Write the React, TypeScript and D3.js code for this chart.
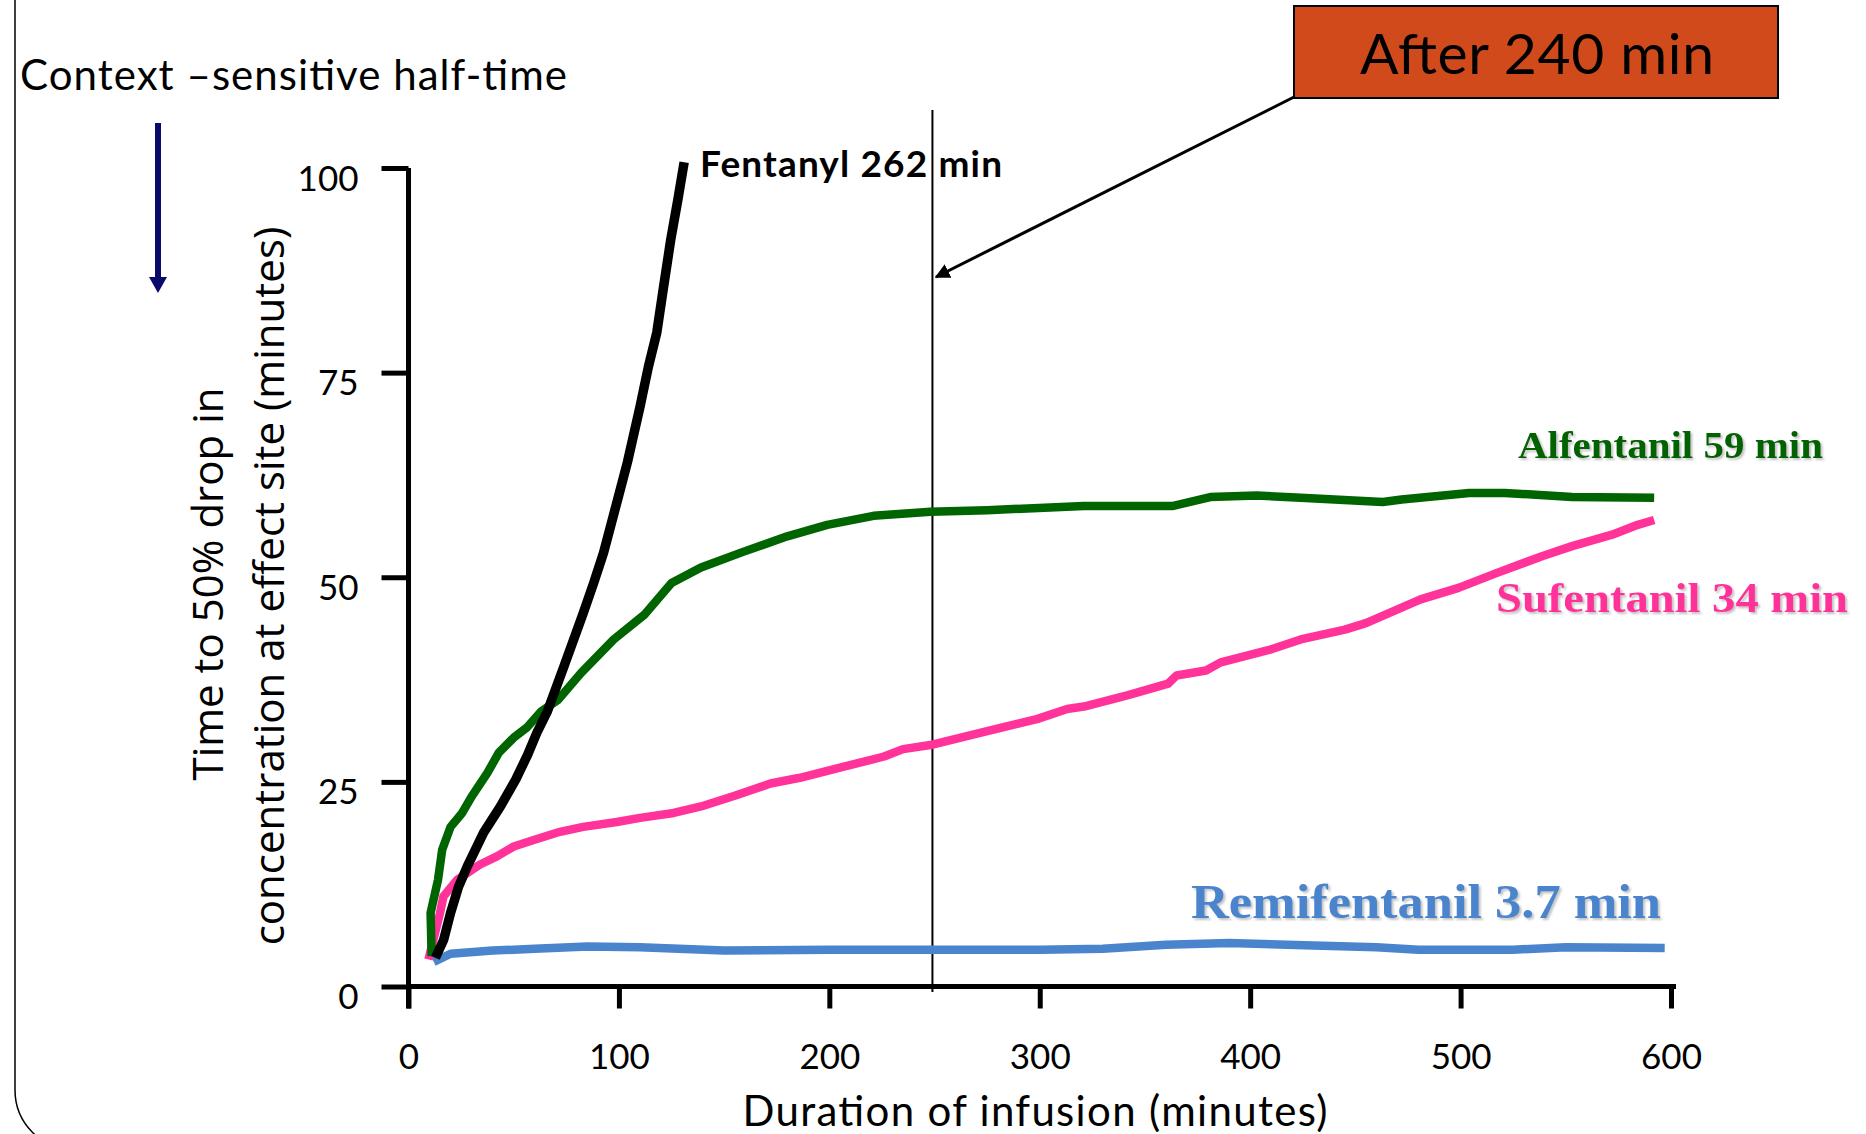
import * as d3 from "d3";
import { useRef, useEffect } from "react";

// infusion duration (min) vs time to 50% drop (min)
const fentanyl: [number, number][] = [
  [12.8, 3.5], [16.7, 5.7], [20, 9], [23.8, 12.2], [28, 14.7], [35.7, 18.8],
  [43.7, 22], [51, 25.3], [56.6, 28.3], [61, 31], [66, 33.6], [73.7, 39],
  [83, 45.6], [88, 49.3], [92.7, 53], [99.4, 59.5], [104, 64], [110, 70.8],
  [114, 75.7], [118, 79.9], [121, 85.1], [124.6, 91.2], [128, 96.1], [131, 100.7],
];

const alfentanil: [number, number][] = [
  [11, 3.7], [10.5, 9], [14, 13], [16, 16.7], [20, 19.5], [25.5, 21.2],
  [30, 23.2], [37.5, 26.1], [43, 28.6], [50, 30.4], [56.5, 31.7], [63, 33.6],
  [71, 35], [82, 38.3], [97.5, 42.4], [112, 45.4], [125, 49.3], [139, 51.2],
  [159, 53.1], [180, 55], [199, 56.4], [221, 57.5], [248, 58], [275, 58.2],
  [321, 58.7], [363, 58.7], [381, 59.8], [403, 60], [424, 59.7], [463, 59.2],
  [472, 59.5], [504, 60.3], [521, 60.3], [553, 59.8], [592, 59.7],
];

const sufentanil: [number, number][] = [
  [9.5, 3.3], [15, 9], [16.6, 11], [23, 13], [34, 14.9], [42, 15.9],
  [50, 17.1], [59.5, 17.9], [72, 18.9], [83, 19.5], [99, 20.1], [110, 20.6],
  [126, 21.2], [139, 22], [155, 23.3], [172, 24.8], [186, 25.5], [206, 26.8],
  [226, 28.1], [235, 29], [248, 29.5], [275, 31.2], [299, 32.7], [313, 33.9],
  [321, 34.2], [342, 35.6], [361, 37], [365, 38], [379, 38.6], [386, 39.6],
  [410, 41.2], [424, 42.4], [445, 43.6], [455, 44.4], [481, 47.3], [499, 48.7],
  [517, 50.5], [539, 52.6], [553, 53.8], [572, 55.2], [583, 56.3], [592, 57],
];

const remifentanil: [number, number][] = [
  [12, 3.0], [20, 4.0], [40, 4.4], [60, 4.6], [85, 4.9], [110, 4.8],
  [150, 4.4], [200, 4.5], [250, 4.5], [300, 4.5], [330, 4.6], [360, 5.1],
  [390, 5.3], [430, 5.0], [460, 4.8], [480, 4.5], [525, 4.5], [550, 4.8],
  [597, 4.7],
];

const xTicks = [0, 100, 200, 300, 400, 500, 600];
const yTicks = [0, 25, 50, 75, 100];
const markerMinute = 249;

const width = 1866;
const height = 1134;

export default function App() {
  const gx = useRef<SVGGElement>(null);
  const gy = useRef<SVGGElement>(null);

  const x = d3.scaleLinear().domain([0, 600]).range([408.5, 1671]);
  const y = d3.scaleLinear().domain([0, 100]).range([986.5, 168]);

  const line = d3
    .line<[number, number]>()
    .x((d) => x(d[0]))
    .y((d) => y(d[1]));

  useEffect(() => {
    if (gx.current) {
      const g = d3.select(gx.current);
      g.call(d3.axisBottom(x).tickValues(xTicks).tickSize(22).tickSizeOuter(0));
      g.select(".domain").attr("stroke", "#000").attr("stroke-width", 5).attr("d", `M${x(0)},0H${x(600) + 5}`);
      g.selectAll(".tick line").attr("stroke", "#000").attr("stroke-width", 5);
      g.selectAll(".tick text")
        .attr("y", 82)
        .attr("dy", 0)
        .attr("fill", "#000")
        .style("font-family", "Lato, 'Open Sans', sans-serif")
        .style("font-size", "35px");
    }
    if (gy.current) {
      const g = d3.select(gy.current);
      g.call(d3.axisLeft(y).tickValues(yTicks).tickSize(27).tickPadding(23).tickSizeOuter(0));
      g.select(".domain").attr("stroke", "#000").attr("stroke-width", 5).attr("d", `M0,${y(100)}V${y(0) + 22}`);
      g.selectAll(".tick line").attr("stroke", "#000").attr("stroke-width", 5);
      g.selectAll(".tick text")
        .attr("dy", 22)
        .attr("fill", "#000")
        .style("font-family", "Lato, 'Open Sans', sans-serif")
        .style("font-size", "35px");
    }
  }, [x, y]);

  const serif = "'Liberation Serif', 'DejaVu Serif', serif";

  return (
    <div style={{ position: "absolute", left: 0, top: 0 }}>
      <svg width={width} height={height} style={{ display: "block", background: "#fff" }}>
        <defs>
          <filter id="shadow" x="-5%" y="-20%" width="110%" height="150%">
            <feDropShadow dx="2" dy="2" stdDeviation="1.2" floodColor="#777" floodOpacity="0.45" />
          </filter>
          <marker id="head" viewBox="0 0 10 10" refX="9" refY="5" markerWidth="5" markerHeight="5" orient="auto">
            <path d="M0,0L10,5L0,10z" fill="#000" />
          </marker>
        </defs>

        {/* slide frame */}
        <rect x={15} y={-100} width={2000} height={1250} rx={60} fill="none" stroke="#000" strokeWidth={1.5} />

        {/* header */}
        <text x={20} y={90} textLength={547} style={{ fontFamily: "Lato, sans-serif", fontSize: 42 }} fill="#000">
          Context –sensitive half-time
        </text>
        <line x1={158} y1={123} x2={158} y2={280} stroke="#0a0a6a" strokeWidth={6} />
        <path d="M149,277L167,277L158,293Z" fill="#0a0a6a" />

        {/* y axis title */}
        <g style={{ fontFamily: "'Open Sans', 'Noto Sans', sans-serif", fontSize: 42 }} fill="#000" textAnchor="middle">
          <text transform="translate(223,584) rotate(-90)">Time to 50% drop in</text>
          <text transform="translate(284,586) rotate(-90)">concentration at effect site (minutes)</text>
        </g>

        {/* x axis title */}
        <text x={1035} y={1126} textAnchor="middle" textLength={585} style={{ fontFamily: "Lato, sans-serif", fontSize: 42 }} fill="#000">
          Duration of infusion (minutes)
        </text>

        {/* 240 min marker */}
        <line x1={x(markerMinute)} y1={110} x2={x(markerMinute)} y2={992} stroke="#000" strokeWidth={2} />

        <g ref={gx} transform={`translate(0,${y(0)})`} />
        <g ref={gy} transform={`translate(${x(0)},0)`} />

        <g fill="none" strokeLinejoin="round">
          <path d={line(remifentanil) || ""} stroke="#4a84cc" strokeWidth={8.5} />
          <path d={line(sufentanil) || ""} stroke="#ff3399" strokeWidth={8.5} />
          <path d={line(alfentanil) || ""} stroke="#006400" strokeWidth={8.5} />
          <path d={line(fentanyl) || ""} stroke="#000" strokeWidth={9.5} />
        </g>

        {/* curve labels */}
        <text x={700} y={177} textLength={302} style={{ fontFamily: "Lato, sans-serif", fontSize: 37, fontWeight: 700 }} fill="#000">
          Fentanyl 262 min
        </text>
        <g filter="url(#shadow)" style={{ fontFamily: serif, fontWeight: 700 }}>
          <text x={1518} y={458} fontSize={37} textLength={305} lengthAdjust="spacingAndGlyphs" fill="#006400">Alfentanil 59 min</text>
          <text x={1496} y={612} fontSize={43} textLength={352} lengthAdjust="spacingAndGlyphs" fill="#ff3399">Sufentanil 34 min</text>
          <text x={1191} y={918} fontSize={48} textLength={470} lengthAdjust="spacingAndGlyphs" fill="#4a84cc">Remifentanil 3.7 min</text>
        </g>

        {/* callout */}
        <rect x={1294} y={6} width={484} height={92} fill="#d14a1b" stroke="#000" strokeWidth={2} />
        <text x={1537} y={74} textAnchor="middle" textLength={354} style={{ fontFamily: "Lato, sans-serif", fontSize: 57 }} fill="#000">
          After 240 min
        </text>
        <line x1={1294} y1={97} x2={936} y2={277} stroke="#000" strokeWidth={3} markerEnd="url(#head)" />
      </svg>
    </div>
  );
}
